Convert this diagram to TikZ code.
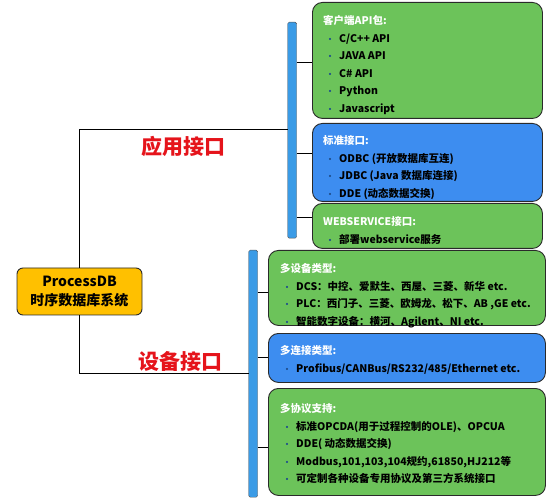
\documentclass[tikz,border=0pt]{standalone}
\usepackage{fontspec}
\setmainfont{Noto Sans CJK SC}
\usepackage{xcolor}
\usetikzlibrary{positioning,calc}
\definecolor{leafgreen}{HTML}{6CC35A}
\definecolor{leafblue}{HTML}{3D8DF0}
\definecolor{barblue}{HTML}{3A9BE6}
\definecolor{rootorange}{HTML}{FFC000}
\definecolor{tagred}{HTML}{E5141B}
\definecolor{dotblue}{HTML}{1F4E8C}
\definecolor{edgegray}{HTML}{2A2A2A}
\newcommand{\hd}[1]{\strut\textcolor{white}{#1}}
\newcommand{\itm}[1]{\strut\hspace*{3pt}\makebox[13pt][l]{\textcolor{dotblue}{\fontsize{8}{8}\selectfont •}}#1}

\begin{document}
\begin{tikzpicture}[x=1pt,y=-1pt,font=\fontsize{10.5}{17.6}\selectfont\bfseries]
  \tikzstyle{leaf}=[draw=edgegray,line width=0.9pt,rounded corners=10pt,anchor=north west,inner sep=0pt]
  \tikzstyle{txt}=[align=left,inner sep=0pt,anchor=north west]
  \tikzstyle{bar}=[draw=edgegray!80,fill=barblue,rounded corners=1.5pt,minimum width=9pt,inner sep=0pt,anchor=north west]
  \tikzstyle{tag}=[text=tagred,font=\fontsize{21}{21}\selectfont\bfseries]
  \tikzstyle{link}=[draw=black,line width=1pt]
  \useasboundingbox (0,0) rectangle (547,500);
  % Root
  \node[draw=edgegray,line width=0.9pt,fill=rootorange,rounded corners=6pt,minimum width=125pt,minimum height=47pt,align=center,inner sep=0pt,font=\fontsize{14}{19}\selectfont\bfseries] (root) at (79.5,291.5) {ProcessDB\\时序数据库系统};
  % Bars
  \node[bar,minimum height=216pt] (appbar) at (287.5,22) {};
  \node[bar,minimum height=247pt] (devbar) at (248.5,250) {};
  % Application interfaces
  \node[leaf,fill=leafgreen,minimum width=230pt,minimum height=116pt] (sdk) at (312,2) {};
  \node[txt,below right=10pt and 11pt of sdk.north west] (sdktxt) {\hd{客户端API包:}\\ \itm{C/C++ API}\\ \itm{JAVA API}\\ \itm{C\# API}\\ \itm{Python}\\ \itm{Javascript}};
  \node[leaf,fill=leafblue,minimum width=230pt,minimum height=78pt] (std) at (312,123) {};
  \node[txt,below right=9pt and 11pt of std.north west] (stdtxt) {\hd{标准接口:}\\ \itm{ODBC (开放数据库互连)}\\ \itm{JDBC (Java 数据库连接)}\\ \itm{DDE (动态数据交换)}};
  \node[leaf,fill=leafgreen,minimum width=230pt,minimum height=45pt] (web) at (312,203) {};
  \node[txt,below right=10pt and 11pt of web.north west] (webtxt) {\hd{WEBSERVICE接口:}\\ \itm{部署webservice服务}};
  % Device interfaces
  \node[leaf,fill=leafgreen,minimum width=277pt,minimum height=75pt] (dev) at (268,250) {};
  \node[txt,below right=10pt and 12pt of dev.north west] (devtxt) {\hd{多设备类型:}\\ \itm{DCS：中控、爱默生、西屋、三菱、新华 etc.}\\ \itm{PLC：西门子、三菱、欧姆龙、松下、AB ,GE etc.}\\ \itm{智能数字设备：横河、Agilent、NI etc.}};
  \node[leaf,fill=leafblue,minimum width=277pt,minimum height=49pt] (net) at (268,333) {};
  \node[txt,below right=9pt and 12pt of net.north west] (nettxt) {\hd{多连接类型:}\\ \itm{Profibus/CANBus/RS232/485/Ethernet etc.}};
  \node[leaf,fill=leafgreen,minimum width=277pt,minimum height=107pt] (proto) at (268,388) {};
  \node[txt,below right=12pt and 12pt of proto.north west] (prototxt) {\hd{多协议支持:}\\ \itm{标准OPCDA(用于过程控制的OLE)、OPCUA}\\ \itm{DDE( 动态数据交换)}\\ \itm{Modbus,101,103,104规约,61850,HJ212等}\\ \itm{可定制各种设备专用协议及第三方系统接口}};
  % Labels
  \node[tag] (applbl) at (183,146) {应用接口};
  \node[tag] (devlbl) at (180,361) {设备接口};
  % Edges
  \coordinate (appin) at (appbar.west |- 0,130);
  \coordinate (devin) at (devbar.west |- 0,373);
  \draw[link] (root.north) |- (appin);
  \draw[link] (root.south) |- (devin);
  \coordinate (sdkin) at ([yshift=-2pt]sdk.west);
  \coordinate (stdin) at ([yshift=9pt]std.west);
  \coordinate (webin) at ([yshift=8.5pt]web.west);
  \coordinate (devlin) at ([yshift=-4.5pt]dev.west);
  \coordinate (netin) at (net.west);
  \coordinate (protoin) at ([yshift=-5.5pt]proto.west);
  \foreach \n in {sdkin,stdin,webin}
    \draw[link] (appbar.east |- \n) -- (\n);
  \foreach \n in {devlin,netin,protoin}
    \draw[link] (devbar.east |- \n) -- (\n);
\end{tikzpicture}
\end{document}
